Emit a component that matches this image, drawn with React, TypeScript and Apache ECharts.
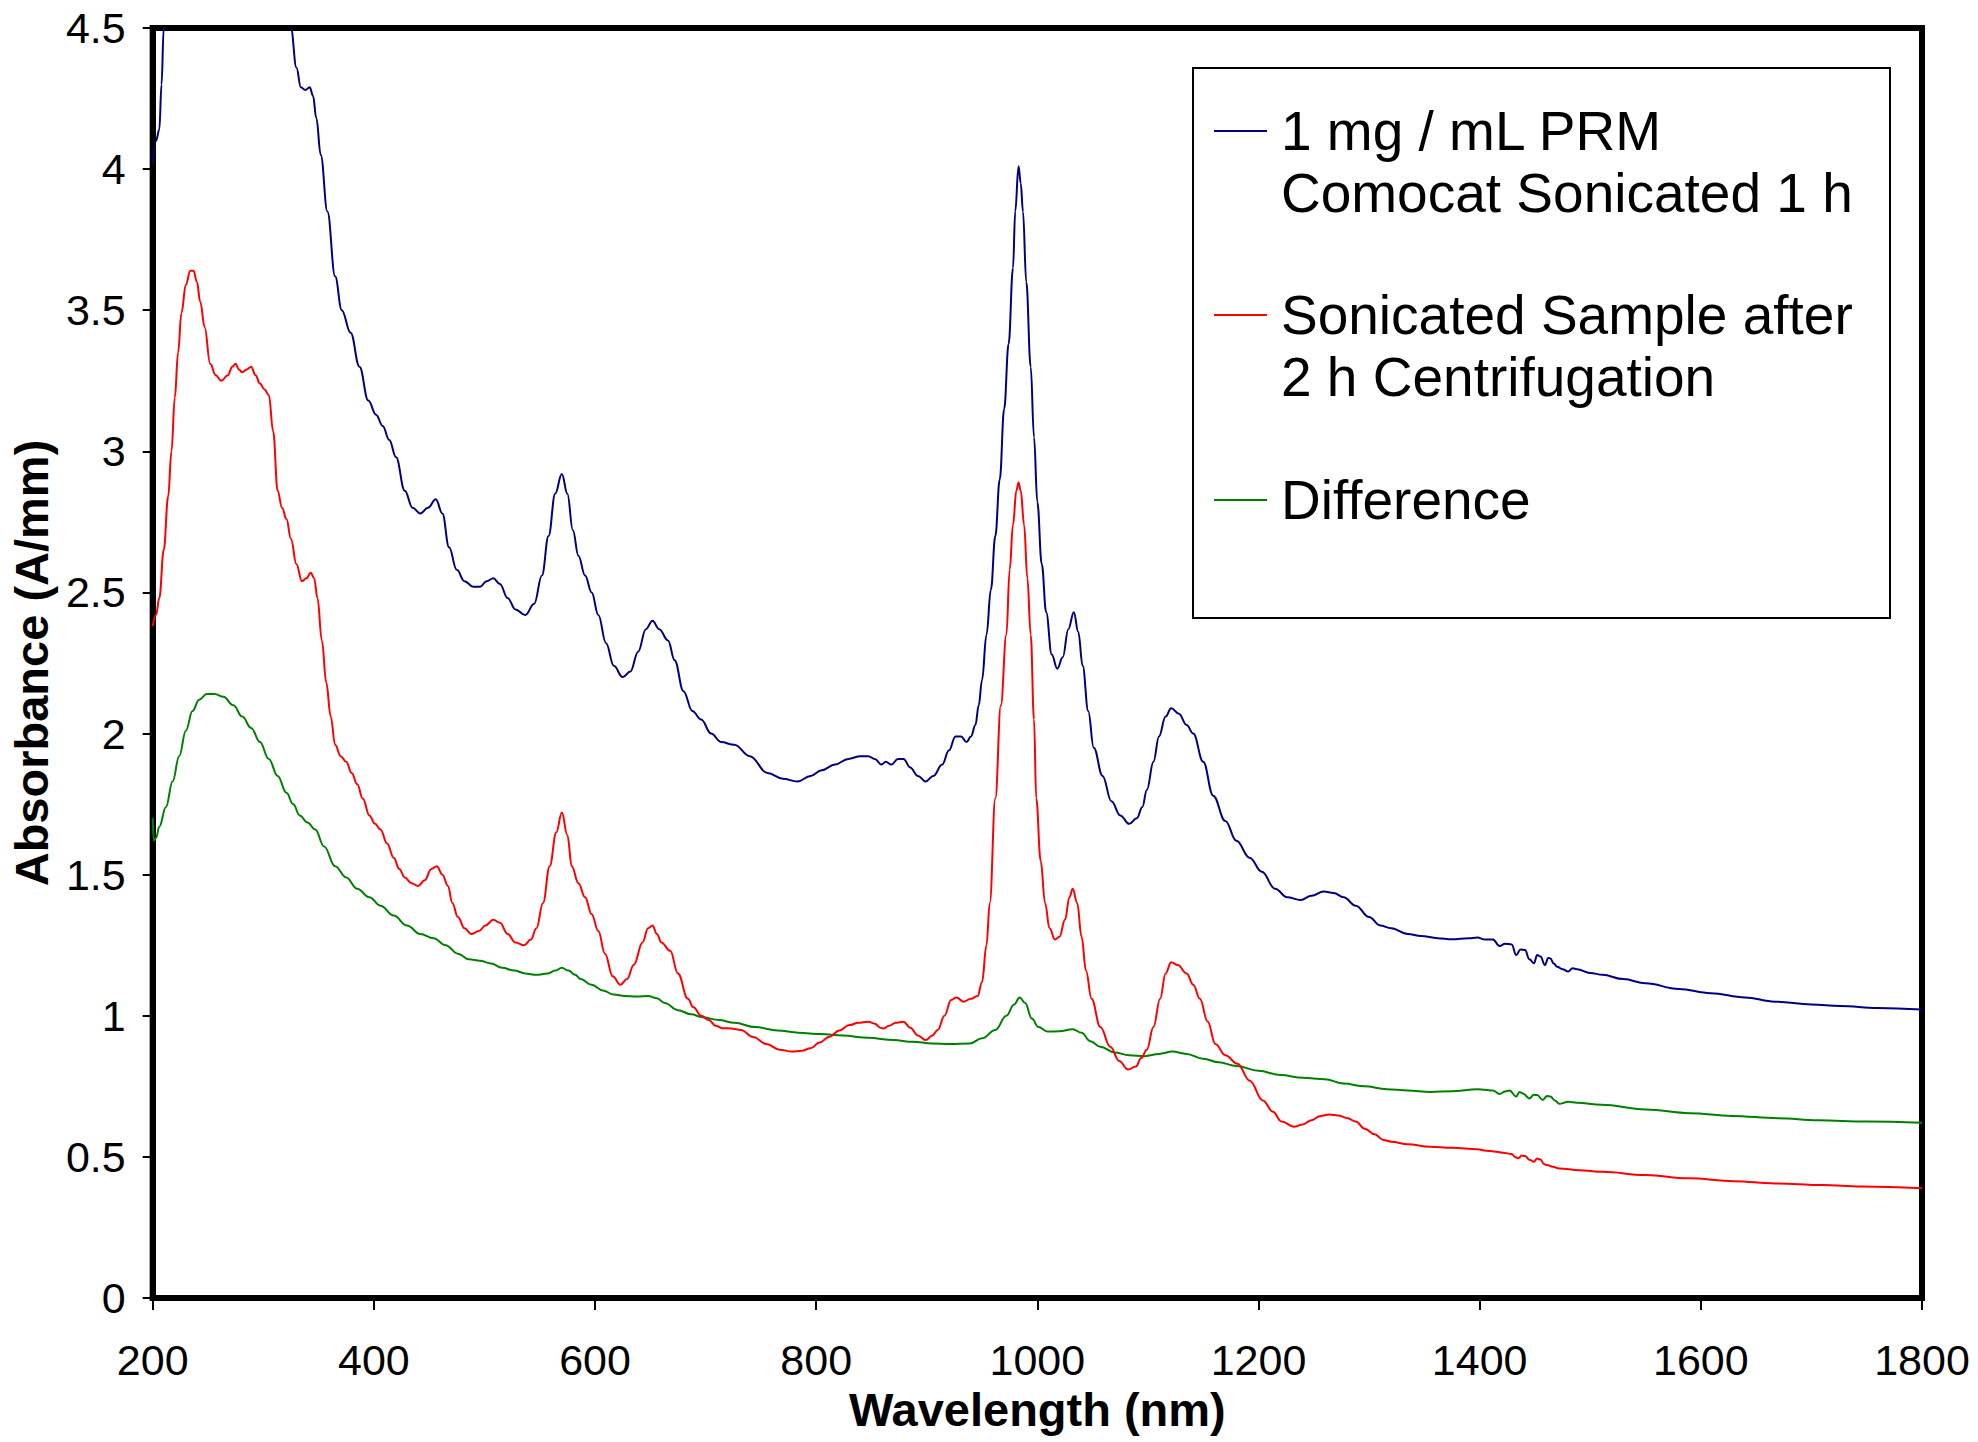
import React, { useEffect, useRef } from "react";
import * as echarts from "echarts";

const xTicks = [200, 400, 600, 800, 1000, 1200, 1400, 1600, 1800];
const yTicks = [0, 0.5, 1, 1.5, 2, 2.5, 3, 3.5, 4, 4.5];

const seriesNames = [
  "1 mg / mL PRM Comocat Sonicated 1 h",
  "Sonicated Sample after 2 h Centrifugation",
  "Difference",
];
const legendLines = [
  ["1 mg / mL PRM", "Comocat Sonicated 1 h"],
  ["Sonicated Sample after", "2 h Centrifugation"],
  ["Difference"],
];
const seriesColors = ["#000080", "#FF0000", "#008000"];

const blueSpectrum: number[][] = [
  [200, 4.02], [203, 4.1], [206, 4.14], [208, 4.3], [210, 4.5], [215, 4.75], [225, 5.0], [250, 5.2],
  [280, 5.15], [305, 4.9], [318, 4.65], [325, 4.5], [330, 4.36], [334, 4.29], [338, 4.28], [342, 4.29],
  [345, 4.26], [348, 4.18], [352, 4.05], [358, 3.85], [365, 3.62], [371, 3.5], [379, 3.42], [387, 3.3],
  [395, 3.18], [402, 3.13], [408, 3.09], [414, 3.04], [420, 2.98], [428, 2.86], [435, 2.8], [442, 2.78],
  [449, 2.8], [456, 2.83], [462, 2.78], [468, 2.66], [475, 2.58], [482, 2.54], [490, 2.52], [496, 2.52],
  [502, 2.54], [508, 2.55], [514, 2.53], [521, 2.48], [528, 2.44], [537, 2.42], [545, 2.46], [552, 2.56],
  [558, 2.7], [564, 2.85], [570, 2.92], [575, 2.85], [580, 2.72], [585, 2.63], [591, 2.56], [597, 2.5],
  [603, 2.42], [610, 2.32], [617, 2.24], [625, 2.2], [632, 2.22], [639, 2.29], [646, 2.37], [652, 2.4],
  [658, 2.37], [666, 2.33], [672, 2.26], [680, 2.15], [688, 2.08], [696, 2.05], [705, 2.0], [714, 1.97],
  [726, 1.96], [740, 1.92], [756, 1.86], [770, 1.84], [783, 1.83], [795, 1.85], [805, 1.87], [817, 1.89],
  [829, 1.91], [840, 1.92], [847, 1.92], [853, 1.91], [859, 1.89], [863, 1.9], [868, 1.89], [874, 1.91],
  [879, 1.91], [885, 1.88], [892, 1.85], [899, 1.83], [906, 1.85], [914, 1.89], [920, 1.94], [926, 1.99],
  [931, 1.99], [936, 1.97], [940, 1.99], [944, 2.03], [947, 2.1], [950, 2.19], [954, 2.35], [958, 2.51],
  [962, 2.7], [966, 2.9], [970, 3.15], [974, 3.38], [978, 3.65], [980, 3.85], [983, 4.01], [985, 3.95],
  [987, 3.85], [990, 3.6], [994, 3.3], [997, 3.05], [1000, 2.82], [1004, 2.6], [1008, 2.43], [1013, 2.28],
  [1018, 2.23], [1023, 2.27], [1028, 2.37], [1033, 2.43], [1037, 2.36], [1041, 2.24], [1046, 2.08],
  [1051, 1.95], [1059, 1.85], [1067, 1.76], [1075, 1.71], [1083, 1.68], [1090, 1.7], [1095, 1.74],
  [1099, 1.8], [1105, 1.9], [1110, 1.99], [1116, 2.06], [1121, 2.09], [1128, 2.07], [1135, 2.03],
  [1141, 2.0], [1150, 1.9], [1159, 1.78], [1170, 1.69], [1180, 1.62], [1192, 1.56], [1203, 1.51],
  [1215, 1.45], [1226, 1.42], [1238, 1.41], [1248, 1.425], [1259, 1.44], [1268, 1.435], [1277, 1.42],
  [1288, 1.39], [1300, 1.35], [1310, 1.32], [1320, 1.31], [1335, 1.29], [1347, 1.283], [1362, 1.275],
  [1375, 1.271], [1390, 1.275], [1398, 1.277], [1405, 1.27], [1412, 1.27], [1418, 1.247], [1423, 1.255],
  [1429, 1.253], [1433, 1.215], [1437, 1.235], [1441, 1.233], [1445, 1.2], [1449, 1.186], [1452, 1.215],
  [1455, 1.21], [1459, 1.18], [1462, 1.205], [1464, 1.203], [1467, 1.185], [1470, 1.174], [1475, 1.165],
  [1480, 1.157], [1484, 1.168], [1488, 1.165], [1500, 1.152], [1511, 1.145], [1530, 1.13], [1550, 1.115],
  [1580, 1.095], [1609, 1.08], [1640, 1.065], [1667, 1.05], [1700, 1.04], [1726, 1.035], [1760, 1.028],
  [1800, 1.022],
];

const redSpectrum: number[][] = [
  [200, 2.38], [203, 2.42], [206, 2.48], [210, 2.65], [214, 2.84], [217, 3.0], [220, 3.19], [223, 3.35],
  [226, 3.49], [230, 3.59], [234, 3.64], [237, 3.64], [240, 3.6], [243, 3.53], [247, 3.44], [252, 3.31],
  [257, 3.27], [262, 3.25], [268, 3.27], [272, 3.3], [275, 3.31], [278, 3.29], [281, 3.28], [285, 3.29],
  [289, 3.3], [293, 3.27], [297, 3.24], [301, 3.22], [305, 3.2], [309, 3.07], [313, 2.86], [317, 2.8],
  [321, 2.76], [325, 2.69], [330, 2.6], [335, 2.54], [339, 2.55], [343, 2.57], [346, 2.55], [349, 2.48],
  [353, 2.33], [357, 2.18], [361, 2.06], [365, 1.96], [370, 1.92], [375, 1.9], [380, 1.86], [385, 1.82],
  [390, 1.77], [396, 1.71], [401, 1.68], [406, 1.66], [412, 1.61], [418, 1.56], [423, 1.52], [428, 1.49],
  [434, 1.47], [440, 1.46], [446, 1.48], [452, 1.52], [457, 1.53], [462, 1.5], [467, 1.46], [471, 1.4],
  [476, 1.35], [482, 1.31], [488, 1.29], [495, 1.3], [501, 1.32], [508, 1.34], [514, 1.33], [521, 1.29],
  [528, 1.26], [536, 1.25], [542, 1.27], [547, 1.31], [553, 1.4], [559, 1.53], [565, 1.65], [570, 1.72],
  [575, 1.64], [579, 1.53], [585, 1.47], [591, 1.42], [597, 1.36], [603, 1.3], [609, 1.22], [616, 1.14],
  [623, 1.11], [629, 1.13], [635, 1.18], [643, 1.26], [648, 1.31], [652, 1.32], [656, 1.29], [660, 1.26],
  [668, 1.23], [675, 1.15], [684, 1.06], [689, 1.03], [696, 1.0], [703, 0.985], [709, 0.965], [715, 0.956],
  [723, 0.955], [732, 0.95], [743, 0.925], [755, 0.9], [767, 0.88], [778, 0.873], [787, 0.876], [795, 0.885],
  [803, 0.905], [812, 0.926], [821, 0.948], [830, 0.967], [838, 0.975], [847, 0.979], [853, 0.972],
  [858, 0.958], [861, 0.955], [866, 0.965], [872, 0.975], [879, 0.979], [885, 0.958], [892, 0.93],
  [899, 0.914], [905, 0.93], [910, 0.95], [916, 1.0], [922, 1.056], [927, 1.065], [933, 1.05], [940, 1.06],
  [946, 1.07], [950, 1.12], [954, 1.25], [957, 1.4], [962, 1.77], [967, 2.1], [972, 2.35], [975, 2.58],
  [978, 2.74], [981, 2.86], [983, 2.89], [985, 2.86], [988, 2.74], [991, 2.55], [994, 2.35], [997, 2.05],
  [999, 1.77], [1003, 1.55], [1007, 1.4], [1011, 1.31], [1016, 1.27], [1020, 1.28], [1025, 1.34],
  [1029, 1.42], [1032, 1.45], [1036, 1.4], [1040, 1.28], [1044, 1.16], [1049, 1.06], [1057, 0.96],
  [1066, 0.89], [1074, 0.84], [1082, 0.81], [1089, 0.82], [1094, 0.85], [1099, 0.88], [1105, 0.96],
  [1111, 1.06], [1116, 1.15], [1121, 1.19], [1127, 1.18], [1135, 1.15], [1141, 1.11], [1147, 1.06],
  [1154, 0.98], [1161, 0.9], [1170, 0.86], [1181, 0.83], [1192, 0.77], [1204, 0.7], [1213, 0.66],
  [1221, 0.625], [1232, 0.607], [1240, 0.615], [1248, 0.63], [1256, 0.645], [1264, 0.65], [1272, 0.647],
  [1280, 0.638], [1288, 0.625], [1296, 0.6], [1305, 0.58], [1313, 0.56], [1320, 0.554], [1335, 0.545],
  [1355, 0.536], [1375, 0.532], [1398, 0.527], [1406, 0.522], [1413, 0.519], [1421, 0.515], [1429, 0.51],
  [1432, 0.5], [1435, 0.495], [1438, 0.505], [1441, 0.503], [1445, 0.49], [1449, 0.483], [1452, 0.494],
  [1455, 0.491], [1458, 0.475], [1461, 0.471], [1466, 0.465], [1472, 0.459], [1490, 0.453], [1511, 0.447],
  [1550, 0.436], [1589, 0.424], [1630, 0.414], [1667, 0.406], [1710, 0.4], [1745, 0.395], [1800, 0.389],
];

const greenSpectrum: number[][] = [
  [200, 1.7], [201, 1.62], [203, 1.63], [206, 1.67], [212, 1.74], [218, 1.83], [224, 1.92], [230, 2.01],
  [236, 2.08], [242, 2.12], [249, 2.14], [256, 2.14], [264, 2.13], [273, 2.1], [281, 2.06], [289, 2.02],
  [297, 1.97], [305, 1.91], [313, 1.85], [321, 1.79], [327, 1.75], [333, 1.71], [340, 1.685], [347, 1.66],
  [355, 1.6], [365, 1.53], [375, 1.49], [385, 1.45], [396, 1.42], [406, 1.39], [418, 1.355], [430, 1.32],
  [442, 1.29], [454, 1.275], [465, 1.25], [476, 1.22], [486, 1.2], [496, 1.195], [506, 1.185], [516, 1.17],
  [527, 1.16], [537, 1.15], [547, 1.145], [557, 1.15], [564, 1.16], [570, 1.17], [576, 1.16], [582, 1.145],
  [587, 1.13], [597, 1.11], [607, 1.09], [617, 1.075], [627, 1.07], [638, 1.068], [648, 1.07], [656, 1.062],
  [663, 1.045], [675, 1.02], [687, 1.005], [697, 0.995], [712, 0.985], [726, 0.975], [745, 0.96],
  [765, 0.948], [784, 0.94], [804, 0.935], [824, 0.93], [847, 0.922], [870, 0.914], [887, 0.908],
  [905, 0.902], [922, 0.9], [939, 0.902], [950, 0.92], [962, 0.95], [972, 1.0], [979, 1.04], [984, 1.065],
  [989, 1.045], [995, 0.99], [1001, 0.96], [1009, 0.944], [1020, 0.945], [1032, 0.952], [1040, 0.94],
  [1048, 0.91], [1057, 0.89], [1070, 0.87], [1083, 0.86], [1097, 0.857], [1110, 0.865], [1122, 0.873],
  [1135, 0.865], [1150, 0.848], [1164, 0.835], [1180, 0.822], [1200, 0.805], [1220, 0.79], [1240, 0.78],
  [1260, 0.775], [1277, 0.76], [1296, 0.75], [1316, 0.74], [1335, 0.735], [1355, 0.73], [1375, 0.733],
  [1398, 0.74], [1405, 0.738], [1412, 0.735], [1418, 0.723], [1423, 0.732], [1427, 0.735], [1433, 0.714],
  [1436, 0.73], [1439, 0.725], [1445, 0.707], [1449, 0.72], [1452, 0.719], [1457, 0.702], [1461, 0.716],
  [1464, 0.714], [1468, 0.7], [1472, 0.688], [1480, 0.695], [1488, 0.692], [1510, 0.685], [1550, 0.668],
  [1590, 0.655], [1628, 0.645], [1670, 0.637], [1706, 0.63], [1750, 0.625], [1800, 0.621],
];

const spectra = [blueSpectrum, redSpectrum, greenSpectrum];

const FONT = "'Liberation Sans', Arial, sans-serif";

export default function App() {
  const ref = useRef<HTMLDivElement>(null);

  useEffect(() => {
    document.body.style.margin = "0";
    if (!ref.current) return;
    const chart = echarts.init(ref.current, undefined, { renderer: "svg" });

    const legendElems: any[] = [
      {
        type: "rect",
        shape: { x: 1193, y: 68, width: 697, height: 550 },
        style: { fill: "#fff", stroke: "#000", lineWidth: 2 },
        z: 10,
      },
    ];
    const legendLineY = [131, 315, 500];
    legendLines.forEach((lines, i) => {
      legendElems.push({
        type: "line",
        shape: { x1: 1214, y1: legendLineY[i], x2: 1267, y2: legendLineY[i] },
        style: { stroke: seriesColors[i], lineWidth: 2 },
        z: 11,
      });
      lines.forEach((t, j) => {
        legendElems.push({
          type: "text",
          x: 1281,
          y: legendLineY[i] + j * 62,
          style: {
            text: t,
            fill: "#000",
            font: `55px ${FONT}`,
            textVerticalAlign: "middle",
            textAlign: "left",
          },
          z: 11,
        });
      });
    });

    chart.setOption({
      animation: false,
      backgroundColor: "#fff",
      textStyle: { fontFamily: FONT },
      grid: {
        left: 151,
        top: 28,
        right: 56,
        bottom: 144,
        show: true,
        borderColor: "#000",
        borderWidth: 6,
        backgroundColor: "transparent",
      },
      xAxis: {
        type: "value",
        min: xTicks[0],
        max: xTicks[xTicks.length - 1],
        interval: 200,
        name: "Wavelength (nm)",
        nameLocation: "middle",
        nameGap: 88,
        nameTextStyle: { fontSize: 47, fontWeight: "bold", color: "#000", fontFamily: FONT },
        axisLine: { show: true, lineStyle: { color: "#000", width: 6 } },
        axisTick: { show: true, length: 12, lineStyle: { color: "#000", width: 2 } },
        axisLabel: {
          fontSize: 43,
          color: "#000",
          margin: 40,
          fontFamily: FONT,
          formatter: (v: number) => String(v),
        },
        splitLine: { show: false },
      },
      yAxis: {
        type: "value",
        min: yTicks[0],
        max: yTicks[yTicks.length - 1],
        interval: 0.5,
        name: "Absorbance (A/mm)",
        nameLocation: "middle",
        nameGap: 92,
        nameTextStyle: { fontSize: 47, fontWeight: "bold", color: "#000", fontFamily: FONT },
        axisLine: { show: true, lineStyle: { color: "#000", width: 6 } },
        axisTick: { show: true, length: 10, lineStyle: { color: "#000", width: 2 } },
        axisLabel: {
          fontSize: 43,
          color: "#000",
          margin: 27,
          fontFamily: FONT,
          formatter: (v: number) => String(v),
        },
        splitLine: { show: false },
      },
      series: spectra.map((d, i) => ({
        name: seriesNames[i],
        type: "line",
        data: d,
        showSymbol: false,
        symbol: "none",
        smooth: 0.4,
        smoothMonotone: "x",
        clip: true,
        lineStyle: { color: seriesColors[i], width: 2 },
        itemStyle: { color: seriesColors[i] },
        z: 5 - i,
      })),
      graphic: { elements: legendElems },
    });

    return () => chart.dispose();
  }, []);

  return <div ref={ref} style={{ width: 1978, height: 1442 }} />;
}
